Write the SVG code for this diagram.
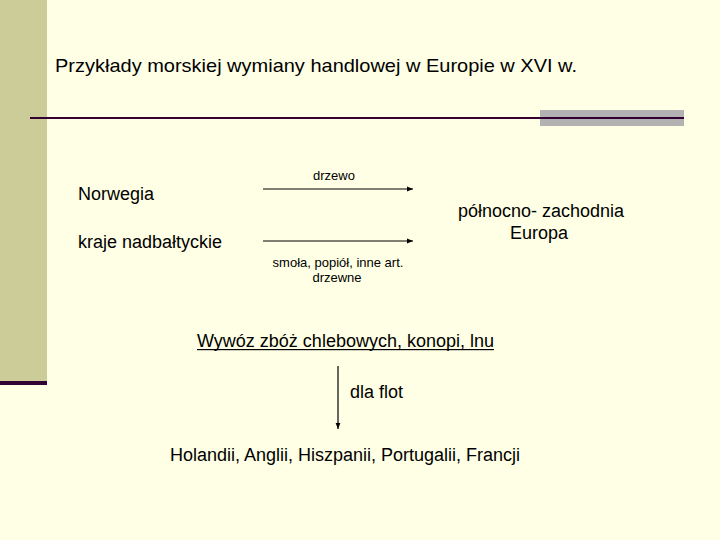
<svg xmlns="http://www.w3.org/2000/svg" width="720" height="540" viewBox="0 0 720 540">
<style>
text{font-family:"Liberation Sans",Arial,sans-serif;fill:#000}
.big{font-size:18px}
.title{font-size:19px}
.sm{font-size:13px}
.c{text-anchor:middle}
.conn{stroke:#000;stroke-width:1.2;fill:none;marker-end:url(#ah)}
</style>
<defs>
<marker id="ah" viewBox="0 0 10 10" refX="10" refY="5" markerWidth="6" markerHeight="6" orient="auto" markerUnits="userSpaceOnUse">
<path d="M0,1 L10,5 L0,9 z" fill="#000"/>
</marker>
</defs>
<rect width="720" height="540" fill="#FFFFE5"/>
<rect x="0" y="0" width="47" height="381" fill="#CCCC99"/>
<rect x="0" y="381" width="47" height="4" fill="#330033"/>
<rect x="540" y="110" width="144" height="16" fill="#B2B2B2"/>
<rect x="30" y="117" width="654" height="2" fill="#330033"/>
<g id="title"><text class="title" x="55" y="72" textLength="522" lengthAdjust="spacingAndGlyphs">Przykłady morskiej wymiany handlowej w Europie w XVI w.</text></g>
<g id="norwegia"><text class="big" x="78" y="200" textLength="76" lengthAdjust="spacingAndGlyphs">Norwegia</text></g>
<g id="kraje"><text class="big" x="78" y="248" textLength="144" lengthAdjust="spacingAndGlyphs">kraje nadbałtyckie</text></g>
<g id="europa"><text class="big" x="458" y="217" textLength="166" lengthAdjust="spacingAndGlyphs">północno- zachodnia</text><text class="big c" x="539" y="239">Europa</text></g>
<g id="wywoz"><text class="big" x="197" y="347" textLength="297" lengthAdjust="spacingAndGlyphs">Wywóz zbóż chlebowych, konopi, lnu</text><rect x="197" y="349" width="297" height="1.2" fill="#000"/></g>
<g id="kraje-dest"><text class="big" x="170" y="461" textLength="350" lengthAdjust="spacingAndGlyphs">Holandii, Anglii, Hiszpanii, Portugalii, Francji</text></g>
<g id="connectors">
<line class="conn" x1="263" y1="189" x2="413" y2="189"/>
<line class="conn" x1="263" y1="241" x2="413" y2="241"/>
<line class="conn" x1="338" y1="366" x2="338" y2="429"/>
<text class="sm c" x="334" y="180">drzewo</text>
<text class="sm c" x="338" y="267">smoła, popiół, inne art.</text>
<text class="sm c" x="337" y="282">drzewne</text>
<text class="big" x="350" y="398" textLength="53" lengthAdjust="spacingAndGlyphs">dla flot</text>
</g>
</svg>
